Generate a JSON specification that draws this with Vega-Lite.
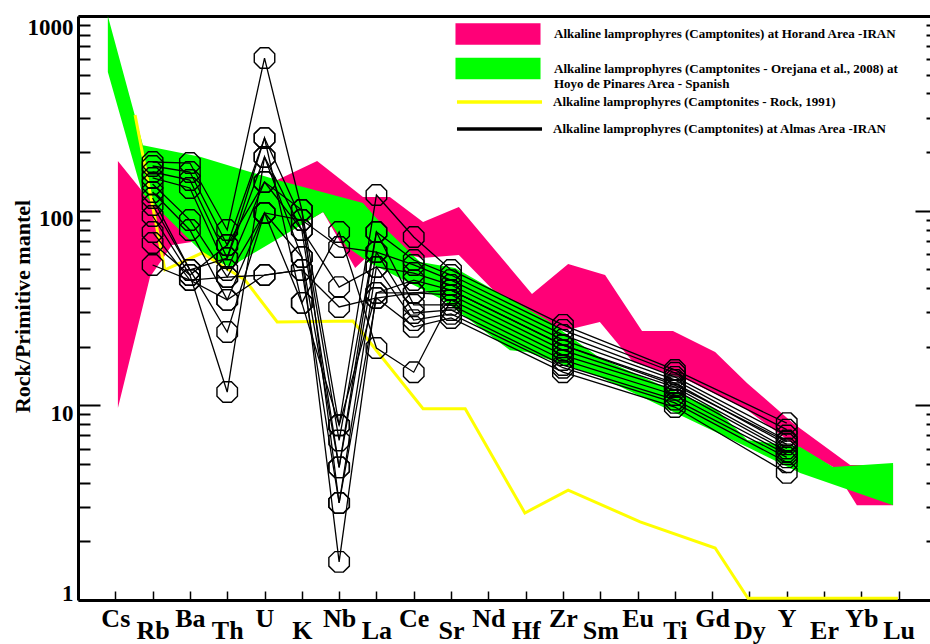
{
  "$schema": "https://vega.github.io/schema/vega-lite/v6.json",
  "width": 852,
  "height": 584,
  "autosize": "none",
  "padding": {"left": 78, "top": 16, "right": 0, "bottom": 44},
  "background": "white",
  "config": {"font": "Liberation Serif", "view": {"stroke": null}},
  "datasets": {
    "horand": [
      {"k": 1, "x": 1.07, "v": 180}, {"k": 2, "x": 1.74, "v": 124.7}, {"k": 3, "x": 2.79, "v": 128},
      {"k": 4, "x": 4.08, "v": 113.4}, {"k": 5, "x": 5.34, "v": 143.7}, {"k": 6, "x": 6.41, "v": 180},
      {"k": 7, "x": 7.64, "v": 117.5}, {"k": 8, "x": 8.36, "v": 117.5}, {"k": 9, "x": 9.25, "v": 87.5},
      {"k": 10, "x": 10.21, "v": 104.5}, {"k": 11, "x": 12.17, "v": 37.3}, {"k": 12, "x": 13.14, "v": 53.2},
      {"k": 13, "x": 14.13, "v": 46.7}, {"k": 14, "x": 15.12, "v": 24.1}, {"k": 15, "x": 15.95, "v": 24.1},
      {"k": 16, "x": 17.08, "v": 18.8}, {"k": 17, "x": 17.94, "v": 13.0}, {"k": 18, "x": 19.17, "v": 8.1},
      {"k": 19, "x": 20.70, "v": 4.94}, {"k": 20, "x": 21.85, "v": 4.94}, {"k": 21, "x": 21.85, "v": 3.07},
      {"k": 22, "x": 20.88, "v": 3.07}, {"k": 23, "x": 20.24, "v": 4.82}, {"k": 24, "x": 19.28, "v": 6.11},
      {"k": 25, "x": 17.94, "v": 9.46}, {"k": 26, "x": 16.33, "v": 13.5}, {"k": 27, "x": 14.88, "v": 16.7},
      {"k": 28, "x": 13.99, "v": 26.8}, {"k": 29, "x": 13.11, "v": 24.4}, {"k": 30, "x": 12.12, "v": 25.0},
      {"k": 31, "x": 10.21, "v": 59.2}, {"k": 32, "x": 9.22, "v": 57.1}, {"k": 33, "x": 8.02, "v": 65.1},
      {"k": 34, "x": 7.43, "v": 50.7}, {"k": 35, "x": 6.57, "v": 98.4}, {"k": 36, "x": 5.76, "v": 79.6},
      {"k": 37, "x": 4.02, "v": 66.6}, {"k": 38, "x": 3.40, "v": 70.6}, {"k": 39, "x": 2.52, "v": 66.6},
      {"k": 40, "x": 1.93, "v": 45.6}, {"k": 41, "x": 1.07, "v": 9.7}
    ],
    "orejana": [
      {"k": 1, "x": 0.80, "v": 1000}, {"k": 2, "x": 1.74, "v": 217}, {"k": 3, "x": 3.27, "v": 189},
      {"k": 4, "x": 5.34, "v": 143.7}, {"k": 5, "x": 7.64, "v": 109.5}, {"k": 6, "x": 8.28, "v": 79.6},
      {"k": 7, "x": 9.17, "v": 54.5}, {"k": 8, "x": 10.11, "v": 50.7}, {"k": 9, "x": 12.57, "v": 27.4},
      {"k": 10, "x": 13.99, "v": 17.5}, {"k": 11, "x": 17.13, "v": 9.46}, {"k": 12, "x": 17.94, "v": 6.64},
      {"k": 13, "x": 19.36, "v": 6.11}, {"k": 14, "x": 20.24, "v": 4.82}, {"k": 15, "x": 21.85, "v": 5.06},
      {"k": 16, "x": 21.85, "v": 3.07}, {"k": 17, "x": 19.36, "v": 4.49}, {"k": 18, "x": 17.94, "v": 6.11},
      {"k": 19, "x": 13.99, "v": 14.0}, {"k": 20, "x": 12.04, "v": 18.8}, {"k": 21, "x": 11.58, "v": 19.2},
      {"k": 22, "x": 9.79, "v": 34.8}, {"k": 23, "x": 7.83, "v": 53.9}, {"k": 24, "x": 7.21, "v": 65.1},
      {"k": 25, "x": 6.57, "v": 98.4}, {"k": 26, "x": 5.76, "v": 79.6}, {"k": 27, "x": 4.08, "v": 51.4},
      {"k": 28, "x": 3.46, "v": 57.8}, {"k": 29, "x": 1.72, "v": 123.3}, {"k": 30, "x": 0.80, "v": 515}
    ],
    "rock": [
      {"x": 1.53, "v": 310}, {"x": 2.33, "v": 49.6}, {"x": 3.32, "v": 60.6}, {"x": 4.48, "v": 44.0},
      {"x": 5.34, "v": 26.8}, {"x": 7.37, "v": 27.1}, {"x": 9.25, "v": 9.6}, {"x": 10.38, "v": 9.6},
      {"x": 11.98, "v": 2.8}, {"x": 13.14, "v": 3.67}, {"x": 15.07, "v": 2.52}, {"x": 17.08, "v": 1.85},
      {"x": 17.96, "v": 1.02}, {"x": 21.98, "v": 1.02}
    ],
    "almas": [
      {"s": 1, "e": "Rb", "i": 2, "v": 177.8}, {"s": 1, "e": "Ba", "i": 3, "v": 175.7}, {"s": 1, "e": "Th", "i": 4, "v": 79.6}, {"s": 1, "e": "U", "i": 5, "v": 608}, {"s": 1, "e": "K", "i": 6, "v": 100.8}, {"s": 1, "e": "Nb", "i": 7, "v": 7.9}, {"s": 1, "e": "La", "i": 8, "v": 120.3}, {"s": 1, "e": "Ce", "i": 9, "v": 73.2}, {"s": 1, "e": "Sr", "i": 10, "v": 49.6}, {"s": 1, "e": "Zr", "i": 13, "v": 25.9}, {"s": 1, "e": "Ti", "i": 16, "v": 15.2}, {"s": 1, "e": "Y", "i": 19, "v": 8.1},
      {"s": 2, "e": "Rb", "i": 2, "v": 169.6}, {"s": 2, "e": "Ba", "i": 3, "v": 158}, {"s": 2, "e": "Th", "i": 4, "v": 66.6}, {"s": 2, "e": "U", "i": 5, "v": 236}, {"s": 2, "e": "K", "i": 6, "v": 89.5}, {"s": 2, "e": "Nb", "i": 7, "v": 6.6}, {"s": 2, "e": "La", "i": 8, "v": 77.7}, {"s": 2, "e": "Ce", "i": 9, "v": 55.8}, {"s": 2, "e": "Sr", "i": 10, "v": 46.7}, {"s": 2, "e": "Zr", "i": 13, "v": 24.4}, {"s": 2, "e": "Ti", "i": 16, "v": 14.7}, {"s": 2, "e": "Y", "i": 19, "v": 7.5},
      {"s": 3, "e": "Rb", "i": 2, "v": 158}, {"s": 3, "e": "Ba", "i": 3, "v": 143.7}, {"s": 3, "e": "Th", "i": 4, "v": 57.1}, {"s": 3, "e": "U", "i": 5, "v": 188.7}, {"s": 3, "e": "K", "i": 6, "v": 79.6}, {"s": 3, "e": "Nb", "i": 7, "v": 4.8}, {"s": 3, "e": "La", "i": 8, "v": 61.3}, {"s": 3, "e": "Ce", "i": 9, "v": 52.6}, {"s": 3, "e": "Sr", "i": 10, "v": 44.0}, {"s": 3, "e": "Zr", "i": 13, "v": 23.0}, {"s": 3, "e": "Ti", "i": 16, "v": 14.0}, {"s": 3, "e": "Y", "i": 19, "v": 7.0},
      {"s": 4, "e": "Rb", "i": 2, "v": 147.2}, {"s": 4, "e": "Ba", "i": 3, "v": 130.8}, {"s": 4, "e": "Th", "i": 4, "v": 49.6}, {"s": 4, "e": "U", "i": 5, "v": 140.4}, {"s": 4, "e": "K", "i": 6, "v": 100.8}, {"s": 4, "e": "Nb", "i": 7, "v": 3.15}, {"s": 4, "e": "La", "i": 8, "v": 51.4}, {"s": 4, "e": "Ce", "i": 9, "v": 47.8}, {"s": 4, "e": "Sr", "i": 10, "v": 41.5}, {"s": 4, "e": "Zr", "i": 13, "v": 21.7}, {"s": 4, "e": "Ti", "i": 16, "v": 13.5}, {"s": 4, "e": "Y", "i": 19, "v": 6.6},
      {"s": 5, "e": "Rb", "i": 2, "v": 137.1}, {"s": 5, "e": "Ba", "i": 3, "v": 89.5}, {"s": 5, "e": "Th", "i": 4, "v": 45.6}, {"s": 5, "e": "U", "i": 5, "v": 97.3}, {"s": 5, "e": "K", "i": 6, "v": 57.8}, {"s": 5, "e": "Nb", "i": 7, "v": 1.57}, {"s": 5, "e": "La", "i": 8, "v": 37.8}, {"s": 5, "e": "Ce", "i": 9, "v": 44.0}, {"s": 5, "e": "Sr", "i": 10, "v": 39.1}, {"s": 5, "e": "Zr", "i": 13, "v": 20.4}, {"s": 5, "e": "Ti", "i": 16, "v": 13.0}, {"s": 5, "e": "Y", "i": 19, "v": 6.3},
      {"s": 6, "e": "Rb", "i": 2, "v": 124.7}, {"s": 6, "e": "Ba", "i": 3, "v": 79.6}, {"s": 6, "e": "Th", "i": 4, "v": 34.8}, {"s": 6, "e": "U", "i": 5, "v": 46.7}, {"s": 6, "e": "K", "i": 6, "v": 49.6}, {"s": 6, "e": "Nb", "i": 7, "v": 3.15}, {"s": 6, "e": "La", "i": 8, "v": 35.6}, {"s": 6, "e": "Ce", "i": 9, "v": 37.8}, {"s": 6, "e": "Sr", "i": 10, "v": 36.9}, {"s": 6, "e": "Zr", "i": 13, "v": 19.2}, {"s": 6, "e": "Ti", "i": 16, "v": 12.4}, {"s": 6, "e": "Y", "i": 19, "v": 6.0},
      {"s": 7, "e": "Rb", "i": 2, "v": 116.1}, {"s": 7, "e": "Ba", "i": 3, "v": 49.6}, {"s": 7, "e": "Th", "i": 4, "v": 23.8}, {"s": 7, "e": "U", "i": 5, "v": 97.3}, {"s": 7, "e": "K", "i": 6, "v": 33.6}, {"s": 7, "e": "Nb", "i": 7, "v": 77.7}, {"s": 7, "e": "La", "i": 8, "v": 19.7}, {"s": 7, "e": "Ce", "i": 9, "v": 14.8}, {"s": 7, "e": "Sr", "i": 10, "v": 34.8}, {"s": 7, "e": "Zr", "i": 13, "v": 18.1}, {"s": 7, "e": "Ti", "i": 16, "v": 12.0}, {"s": 7, "e": "Y", "i": 19, "v": 5.8},
      {"s": 8, "e": "Rb", "i": 2, "v": 93.9}, {"s": 8, "e": "Ba", "i": 3, "v": 46.7}, {"s": 8, "e": "Th", "i": 4, "v": 11.7}, {"s": 8, "e": "U", "i": 5, "v": 188.7}, {"s": 8, "e": "K", "i": 6, "v": 57.8}, {"s": 8, "e": "Nb", "i": 7, "v": 4.8}, {"s": 8, "e": "La", "i": 8, "v": 77.7}, {"s": 8, "e": "Ce", "i": 9, "v": 32.8}, {"s": 8, "e": "Sr", "i": 10, "v": 32.8}, {"s": 8, "e": "Zr", "i": 13, "v": 17.1}, {"s": 8, "e": "Ti", "i": 16, "v": 11.3}, {"s": 8, "e": "Y", "i": 19, "v": 5.6},
      {"s": 9, "e": "Rb", "i": 2, "v": 77.7}, {"s": 9, "e": "Ba", "i": 3, "v": 44.0}, {"s": 9, "e": "Th", "i": 4, "v": 34.8}, {"s": 9, "e": "U", "i": 5, "v": 97.3}, {"s": 9, "e": "K", "i": 6, "v": 89.5}, {"s": 9, "e": "Nb", "i": 7, "v": 65.1}, {"s": 9, "e": "La", "i": 8, "v": 61.3}, {"s": 9, "e": "Ce", "i": 9, "v": 29.8}, {"s": 9, "e": "Sr", "i": 10, "v": 30.9}, {"s": 9, "e": "Zr", "i": 13, "v": 16.1}, {"s": 9, "e": "Ti", "i": 16, "v": 10.7}, {"s": 9, "e": "Y", "i": 19, "v": 5.4},
      {"s": 10, "e": "Rb", "i": 2, "v": 68.2}, {"s": 10, "e": "Ba", "i": 3, "v": 46.7}, {"s": 10, "e": "Th", "i": 4, "v": 66.6}, {"s": 10, "e": "U", "i": 5, "v": 140.4}, {"s": 10, "e": "K", "i": 6, "v": 79.6}, {"s": 10, "e": "Nb", "i": 7, "v": 40.5}, {"s": 10, "e": "La", "i": 8, "v": 51.4}, {"s": 10, "e": "Ce", "i": 9, "v": 27.4}, {"s": 10, "e": "Sr", "i": 10, "v": 29.5}, {"s": 10, "e": "Zr", "i": 13, "v": 15.6}, {"s": 10, "e": "Ti", "i": 16, "v": 10.3}, {"s": 10, "e": "Y", "i": 19, "v": 5.1},
      {"s": 11, "e": "Rb", "i": 2, "v": 52.6}, {"s": 11, "e": "Ba", "i": 3, "v": 44.0}, {"s": 11, "e": "Th", "i": 4, "v": 45.6}, {"s": 11, "e": "U", "i": 5, "v": 46.7}, {"s": 11, "e": "K", "i": 6, "v": 49.6}, {"s": 11, "e": "Nb", "i": 7, "v": 32.0}, {"s": 11, "e": "La", "i": 8, "v": 35.6}, {"s": 11, "e": "Ce", "i": 9, "v": 25.3}, {"s": 11, "e": "Sr", "i": 10, "v": 28.1}, {"s": 11, "e": "Zr", "i": 13, "v": 14.8}, {"s": 11, "e": "Ti", "i": 16, "v": 9.8}, {"s": 11, "e": "Y", "i": 19, "v": 4.5},
      {"s": 12, "e": "Rb", "i": 2, "v": 106.9}, {"s": 12, "e": "Ba", "i": 3, "v": 49.6}, {"s": 12, "e": "Th", "i": 4, "v": 57.1}, {"s": 12, "e": "U", "i": 5, "v": 236}, {"s": 12, "e": "K", "i": 6, "v": 33.6}, {"s": 12, "e": "Nb", "i": 7, "v": 7.9}, {"s": 12, "e": "La", "i": 8, "v": 37.8}, {"s": 12, "e": "Ce", "i": 9, "v": 37.8}, {"s": 12, "e": "Sr", "i": 10, "v": 39.1}, {"s": 12, "e": "Zr", "i": 13, "v": 20.4}, {"s": 12, "e": "Ti", "i": 16, "v": 12.7}, {"s": 12, "e": "Y", "i": 19, "v": 6.5}
    ]
  },
  "layer": [
    {
      "data": {"name": "horand"},
      "mark": {"type": "line", "strokeWidth": 0, "interpolate": "linear"},
      "encoding": {
        "x": {
          "field": "x", "type": "quantitative",
          "scale": {"domain": [0, 22.84], "nice": false, "zero": false},
          "axis": {
            "orient": "bottom", "title": null,
            "values": [1, 2, 3, 4, 5, 6, 7, 8, 9, 10, 11, 12, 13, 14, 15, 16, 17, 18, 19, 20, 21, 22],
            "labelExpr": "['', 'Cs', 'Rb', 'Ba', 'Th', 'U', 'K', 'Nb', 'La', 'Ce', 'Sr', 'Nd', 'Hf', 'Zr', 'Sm', 'Eu', 'Ti', 'Gd', 'Dy', 'Y', 'Er', 'Yb', 'Lu'][datum.value]",
            "grid": false, "domainColor": "black", "domainWidth": 3,
            "tickColor": "black", "tickWidth": 1.5, "tickSize": -9,
            "labelFont": "Liberation Serif", "labelFontWeight": "bold", "labelFontSize": 26, "labelColor": "black",
            "labelPadding": {"condition": {"test": "datum.value % 2 == 0", "value": 26}, "value": 14},
            "labelOverlap": false, "labelFlush": false, "labelBound": false
          }
        },
        "y": {
          "field": "v", "type": "quantitative",
          "scale": {"type": "log", "domain": [1, 1000], "nice": false},
          "axis": {
            "orient": "left", "title": "Rock/Primitive mantel",
            "titleFont": "Liberation Serif", "titleFontWeight": "bold", "titleFontSize": 22, "titleColor": "black",
            "titleAngle": -90, "titleX": -56, "titleY": 290, "titleAlign": "center", "titleBaseline": "middle",
            "values": [1, 2, 3, 4, 5, 6, 7, 8, 9, 10, 20, 30, 40, 50, 60, 70, 80, 90, 100, 200, 300, 400, 500, 600, 700, 800, 900, 1000],
            "labelExpr": "(datum.value == 1 || datum.value == 10 || datum.value == 100 || datum.value == 1000) ? '' + datum.value : ''",
            "grid": false, "domainColor": "black", "domainWidth": 3,
            "tickColor": "black", "tickWidth": 2,
            "tickSize": {"condition": {"test": "datum.value == 1 || datum.value == 10 || datum.value == 100 || datum.value == 1000", "value": -22}, "value": -12},
            "labelPadding": 27,
            "labelOffset": {"condition": [{"test": "datum.value == 1000", "value": 0}, {"test": "datum.value == 1", "value": 5}], "value": 8},
            "labelFont": "Liberation Serif", "labelFontWeight": "bold", "labelFontSize": 23, "labelColor": "black",
            "labelOverlap": false, "labelFlush": true, "labelBound": false
          }
        },
        "order": {"field": "k", "type": "quantitative"},
        "fill": {
          "datum": "Alkaline lamprophyres (Camptonites) at Horand Area -IRAN",
          "type": "nominal",
          "scale": {
            "domain": [
              "Alkaline lamprophyres (Camptonites) at Horand Area -IRAN",
              "Alkaline lamprophyres (Camptonites - Orejana et al., 2008) at Hoyo de Pinares Area - Spanish"
            ],
            "range": ["#ff0077", "#00ff00"]
          },
          "legend": {
            "orient": "none", "legendX": 409, "legendY": 7, "title": null, "padding": 0, "direction": "vertical",
            "symbolType": "M-4,-1H4V1H-4Z", "symbolSize": 452, "symbolStrokeWidth": 0, "symbolStrokeColor": "transparent", "symbolOpacity": 1,
            "labelOffset": 45, "rowPadding": 12.5, "labelLineHeight": 15,
            "labelFont": "Liberation Serif", "labelFontWeight": "bold", "labelFontSize": 13, "labelColor": "black", "labelLimit": 600,
            "labelExpr": "datum.value == 'Alkaline lamprophyres (Camptonites - Orejana et al., 2008) at Hoyo de Pinares Area - Spanish' ? ['Alkaline lamprophyres (Camptonites - Orejana et al., 2008) at', 'Hoyo de Pinares Area - Spanish'] : datum.label"
          }
        }
      }
    },
    {
      "data": {"name": "orejana"},
      "mark": {"type": "line", "strokeWidth": 0},
      "encoding": {
        "x": {
          "field": "x", "type": "quantitative",
          "axis": {"orient": "top", "title": null, "labels": false, "ticks": false, "grid": false, "domainColor": "black", "domainWidth": 3}
        },
        "y": {
          "field": "v", "type": "quantitative",
          "axis": {
            "orient": "right", "title": null, "labels": false, "grid": false, "domain": false,
            "values": [1, 2, 3, 4, 5, 6, 7, 8, 9, 10, 20, 30, 40, 50, 60, 70, 80, 90, 100, 200, 300, 400, 500, 600, 700, 800, 900, 1000],
            "tickColor": "black", "tickWidth": 2,
            "tickSize": {"condition": {"test": "datum.value == 1 || datum.value == 10 || datum.value == 100 || datum.value == 1000", "value": -15}, "value": -4}
          }
        },
        "order": {"field": "k", "type": "quantitative"},
        "fill": {"datum": "Alkaline lamprophyres (Camptonites - Orejana et al., 2008) at Hoyo de Pinares Area - Spanish", "type": "nominal"}
      }
    },
    {
      "data": {"name": "rock"},
      "mark": {"type": "line", "strokeWidth": 3},
      "encoding": {
        "x": {"field": "x", "type": "quantitative", "axis": null},
        "y": {"field": "v", "type": "quantitative", "axis": null},
        "stroke": {
          "datum": "Alkaline lamprophyres (Camptonites - Rock, 1991)",
          "type": "nominal",
          "scale": {
            "domain": [
              "Alkaline lamprophyres (Camptonites - Rock, 1991)",
              "Alkaline lamprophyres (Camptonites) at Almas Area -IRAN"
            ],
            "range": ["#ffff00", "#000000"]
          },
          "legend": {
            "orient": "none", "legendX": 409, "legendY": 73.5, "title": null, "padding": 0, "direction": "vertical",
            "symbolType": "M-4,0H4", "symbolSize": 452, "symbolStrokeWidth": 3.5, "symbolFillColor": "transparent", "symbolOpacity": 1,
            "labelOffset": 41, "rowPadding": 7,
            "labelFont": "Liberation Serif", "labelFontWeight": "bold", "labelFontSize": 13, "labelColor": "black", "labelLimit": 600
          }
        }
      }
    },
    {
      "data": {"name": "almas"},
      "mark": {"type": "line", "strokeWidth": 1.3},
      "encoding": {
        "x": {"field": "i", "type": "quantitative", "axis": null},
        "y": {"field": "v", "type": "quantitative", "axis": null},
        "detail": {"field": "s", "type": "nominal"},
        "stroke": {"datum": "Alkaline lamprophyres (Camptonites) at Almas Area -IRAN", "type": "nominal"}
      }
    },
    {
      "data": {"name": "almas"},
      "mark": {
        "type": "point", "filled": false, "stroke": "black", "strokeWidth": 1.4, "opacity": 1, "size": 420,
        "shape": "M-0.414,-1L0.414,-1L1,-0.414L1,0.414L0.414,1L-0.414,1L-1,0.414L-1,-0.414Z"
      },
      "encoding": {
        "x": {"field": "i", "type": "quantitative", "axis": null},
        "y": {"field": "v", "type": "quantitative", "axis": null}
      }
    }
  ],
  "resolve": {"axis": {"x": "independent", "y": "independent"}}
}
